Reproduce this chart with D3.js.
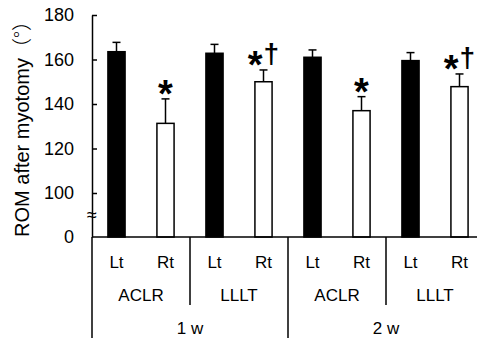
<!DOCTYPE html>
<html>
<head>
<meta charset="utf-8">
<script src="https://cdn.jsdelivr.net/npm/d3@7"></script>
<style>
  body { margin: 0; background: #fff; }
  svg { display: block; font-family: Arial, "Liberation Sans", sans-serif; }
</style>
</head>
<body>
<div id="chart"></div>
<script>
// data
var weeks = ["1 w", "2 w"];
var groups = ["ACLR", "LLLT"];
var sides = ["Lt", "Rt"];
var means = [163.5, 131.3, 162.8, 150.0, 161.0, 137.0, 159.5, 147.8];
var errors = [4.2, 11.0, 4.0, 5.3, 3.3, 6.3, 3.6, 5.7];
var marks = ["", "*", "", "*\u2020", "", "*", "", "*\u2020"];
var yTicks = [0, 100, 120, 140, 160, 180];

var width = 477, height = 345;

// one entry per bar
var bars = [];
weeks.forEach(function (w, wi) {
    groups.forEach(function (g, gi) {
        sides.forEach(function (s, si) {
            var i = bars.length;
            bars.push({ id: i, week: w, group: g, side: s, value: means[i], err: errors[i], mark: marks[i] });
        });
    });
});

var svg = d3.select("#chart").append("svg")
    .attr("width", width)
    .attr("height", height);

// x: one band per bar
var xScale = d3.scaleBand()
    .domain(bars.map(function (d) { return d.id; }))
    .range([92, 484])
    .paddingInner(0.65)
    .paddingOuter(0.325);

// y: broken axis, 0..100 squeezed
var yScale = d3.scaleLinear()
    .domain([0, 100, 180])
    .range([237, 193, 15]);

var step = xScale.step();
var x0 = xScale.range()[0];
var yBase = yScale(0);
var cx = function (d) { return xScale(d.id) + xScale.bandwidth() / 2; };

// bars
svg.selectAll(".bar")
    .data(bars)
    .enter().append("rect")
    .attr("class", "bar")
    .attr("x", function (d) { return xScale(d.id); })
    .attr("y", function (d) { return yScale(d.value); })
    .attr("width", xScale.bandwidth())
    .attr("height", function (d) { return yBase - yScale(d.value); })
    .attr("fill", function (d) { return d.side === "Lt" ? "#000" : "#fff"; })
    .attr("stroke", "#000")
    .attr("stroke-width", 1.5);

// error bars (upper only)
var errG = svg.selectAll(".err")
    .data(bars)
    .enter().append("g")
    .attr("class", "err")
    .attr("stroke", "#000")
    .attr("stroke-width", 1.5);
errG.append("line")
    .attr("x1", cx).attr("x2", cx)
    .attr("y1", function (d) { return yScale(d.value); })
    .attr("y2", function (d) { return yScale(d.value + d.err); });
errG.append("line")
    .attr("x1", function (d) { return cx(d) - 4; })
    .attr("x2", function (d) { return cx(d) + 4; })
    .attr("y1", function (d) { return yScale(d.value + d.err); })
    .attr("y2", function (d) { return yScale(d.value + d.err); });

// significance marks
var markText = svg.selectAll(".mark")
    .data(bars.filter(function (d) { return d.mark; }))
    .enter().append("text")
    .attr("class", "mark")
    .attr("x", cx)
    .attr("y", function (d) { return yScale(d.value + d.err) + 8; })
    .attr("text-anchor", "middle")
    .attr("font-weight", "bold");
markText.append("tspan")
    .attr("font-size", 38)
    .text("*");
markText.filter(function (d) { return d.mark.length > 1; })
    .append("tspan")
    .attr("font-size", 28)
    .attr("dx", 1)
    .attr("dy", -15)
    .text(function (d) { return d.mark.slice(1); });

// y axis
var yAxis = d3.axisLeft(yScale)
    .tickValues(yTicks)
    .tickSizeInner(-5)
    .tickSizeOuter(0)
    .tickPadding(18);
var yNode = svg.append("g")
    .attr("transform", "translate(" + x0 + ",0)")
    .call(yAxis);
yNode.select(".domain").attr("stroke-width", 1.5);
yNode.selectAll(".tick line").attr("stroke-width", 1.5);
yNode.selectAll(".tick text").attr("font-size", 18).attr("font-family", "Arial, 'Liberation Sans', sans-serif").attr("fill", "#000");
yNode.selectAll(".tick").filter(function (d) { return d === 0; }).select("line").remove();

// axis break
svg.append("text")
    .attr("x", x0)
    .attr("y", (yScale(0) + yScale(100)) / 2 + 6)
    .attr("text-anchor", "middle")
    .attr("font-size", 18)
    .text("\u2248");

// y label
var yLab = svg.append("text")
    .attr("transform", "translate(29,124) rotate(-90)")
    .attr("text-anchor", "middle")
    .attr("font-size", 20);
yLab.append("tspan").text("ROM after myotomy");
yLab.append("tspan")
    .attr("font-family", "'Noto Sans CJK JP', sans-serif")
    .attr("font-weight", 300)
    .text("\uFF08\u00B0\uFF09");

// x axis line
svg.append("line")
    .attr("x1", x0).attr("x2", width)
    .attr("y1", yBase).attr("y2", yBase)
    .attr("stroke", "#000").attr("stroke-width", 1.5);

// side labels
svg.selectAll(".side")
    .data(bars)
    .enter().append("text")
    .attr("class", "side")
    .attr("x", cx)
    .attr("y", 268)
    .attr("text-anchor", "middle")
    .attr("font-size", 17)
    .text(function (d) { return d.side; });

// group labels
var groupCells = [];
weeks.forEach(function (w, wi) {
    groups.forEach(function (g, gi) {
        groupCells.push({ label: g, k: wi * groups.length + gi });
    });
});
svg.selectAll(".grp")
    .data(groupCells)
    .enter().append("text")
    .attr("class", "grp")
    .attr("x", function (d) { return x0 + (d.k + 0.5) * step * sides.length; })
    .attr("y", 301)
    .attr("text-anchor", "middle")
    .attr("font-size", 17)
    .text(function (d) { return d.label; });

// week labels
svg.selectAll(".wk")
    .data(weeks)
    .enter().append("text")
    .attr("class", "wk")
    .attr("x", function (d, i) { return x0 + (i + 0.5) * step * sides.length * groups.length; })
    .attr("y", 334)
    .attr("text-anchor", "middle")
    .attr("font-size", 17)
    .text(function (d) { return d; });

// separators under the axis
var seps = d3.range(groupCells.length);
svg.selectAll(".sep")
    .data(seps)
    .enter().append("line")
    .attr("class", "sep")
    .attr("x1", function (k) { return x0 + k * step * sides.length; })
    .attr("x2", function (k) { return x0 + k * step * sides.length; })
    .attr("y1", yBase)
    .attr("y2", function (k) { return k % groups.length === 0 ? 338 : 305; })
    .attr("stroke", "#000")
    .attr("stroke-width", 1.5);
</script>
</body>
</html>
